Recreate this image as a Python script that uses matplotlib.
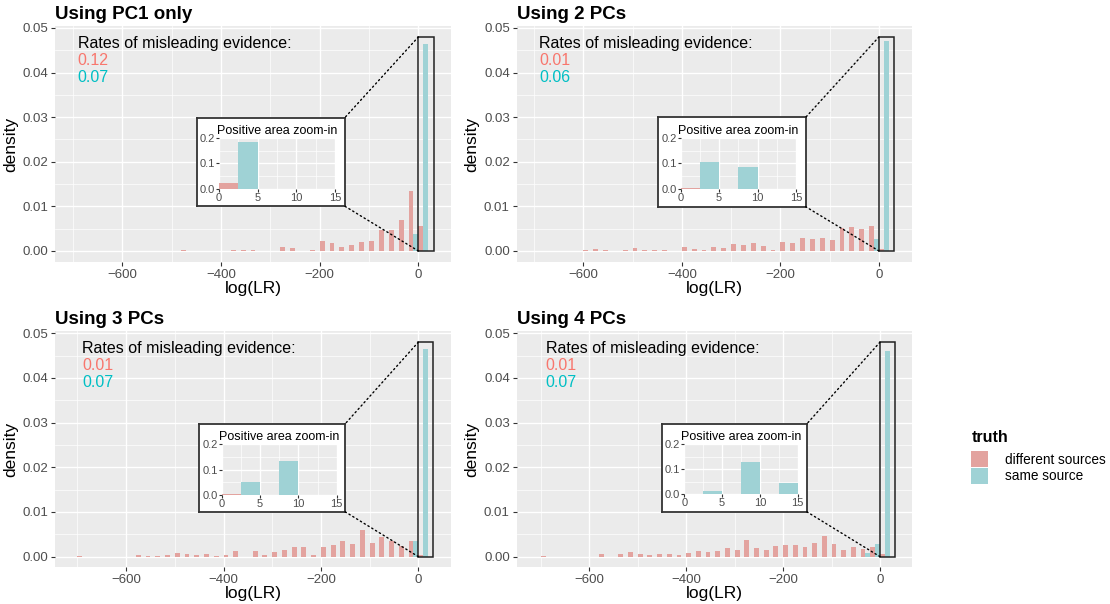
import numpy as np
import matplotlib
matplotlib.use("Agg")
import matplotlib.pyplot as plt
from matplotlib.patches import Rectangle, ConnectionPatch

plt.rcParams['font.family'] = ['Liberation Sans', 'DejaVu Sans']

# ---------------- data ----------------
titles = ["Using PC1 only", "Using 2 PCs", "Using 3 PCs", "Using 4 PCs"]
rate_diff = ["0.12", "0.01", "0.01", "0.01"]
rate_same = ["0.07", "0.06", "0.07", "0.07"]
legend_title = "truth"
legend_labels = ["different sources", "same source"]

# main histogram: bins of width 20, left edges -700 ... 0
bin_left = np.arange(-700, 20, 20)

diff_pc1 = [0, 0, 0, 0, 0, 0, 0, 0, 0, 0, 0, 0.0003, 0, 0, 0, 0, 0.0002, 0.0003,
            0.0002, 0, 0, 0.0009, 0.0007, 0, 0.0002, 0.0022, 0.0019, 0.0010, 0.0013,
            0.0021, 0.0022, 0.0046, 0.0046, 0.0069, 0.0134, 0.0055]
same_pc1 = [0] * 34 + [0.0037, 0.0463]

diff_pc2 = [0, 0, 0, 0, 0, 0.0003, 0.0005, 0.00015, 0.0001, 0.0003, 0.0007, 0.00015,
            0.0003, 0.0003, 0, 0.0008, 0.0004, 0.0003, 0.0009, 0.0006, 0.0015, 0.0013,
            0.0019, 0.0011, 0.00015, 0.0020, 0.0019, 0.0030, 0.0026, 0.0030, 0.0024,
            0.0052, 0.0054, 0.0049, 0.0057, 0.0004]
same_pc2 = [0] * 34 + [0.0028, 0.0471]

diff_pc3 = [0.0002, 0, 0, 0, 0, 0, 0.0004, 0.00015, 0.0001, 0.0004, 0.0009, 0.0005,
            0.0003, 0.0006, 0.00015, 0.0004, 0.0013, 0, 0.0013, 0.00045, 0.0011, 0.0014,
            0.0021, 0.0021, 0.0004, 0.0022, 0.0027, 0.0034, 0.0029, 0.0060, 0.0031,
            0.0044, 0.0034, 0.0024, 0.0036, 0.0004]
same_pc3 = [0] * 34 + [0.0036, 0.0465]

diff_pc4 = [0.0001, 0, 0, 0, 0, 0, 0.0006, 0, 0.0007, 0.0010, 0.0006, 0.0003,
            0.0005, 0.0007, 0.0003, 0.0009, 0.0012, 0.0010, 0.0013, 0.0020, 0.0016, 0.0037,
            0.0019, 0.0015, 0.0024, 0.0026, 0.0026, 0.0022, 0.0031, 0.0046, 0.0028,
            0.0015, 0.0021, 0.0018, 0.0022, 0.0005]
same_pc4 = [0] * 33 + [0.0008, 0.0028, 0.0460]

# inset histogram: bins of width 5, left edges 0, 5, 10
zoom_left = np.array([0, 5, 10])
zoom_diff = [[0.022, 0, 0], [0.002, 0, 0], [0.002, 0, 0], [0.002, 0, 0]]
zoom_same = [[0.185, 0, 0], [0.105, 0.087, 0], [0.052, 0.135, 0], [0.013, 0.128, 0.045]]

diff_all = [diff_pc1, diff_pc2, diff_pc3, diff_pc4]
same_all = [same_pc1, same_pc2, same_pc3, same_pc4]

# ---------------- style ----------------
W, H = 1110, 604
C_DIFF = "#E3A39F"
C_SAME = "#9FD2D5"
BG = "#EBEBEB"
TICKC = "#4D4D4D"

fig = plt.figure(figsize=(W / 100, H / 100), dpi=100)


def ax_px(l, t, r, b, **kw):
    return fig.add_axes([l / W, 1 - b / H, (r - l) / W, (b - t) / H], **kw)


def gg_style(ax, fs):
    ax.set_facecolor(BG)
    for s in ax.spines.values():
        s.set_visible(False)
    ax.grid(True, which='major', color='white', linewidth=1.0)
    ax.grid(True, which='minor', color='white', linewidth=0.5)
    ax.set_axisbelow(True)
    ax.tick_params(which='major', length=3, width=0.8, color='#333333',
                   labelcolor=TICKC, labelsize=fs, pad=2)
    ax.tick_params(which='minor', length=0)


panels = [(55, 26.2, 451, 261.7), (516.7, 26.2, 912, 261.7),
          (55, 331.4, 451, 567.4), (516.7, 331.4, 912, 567.4)]
xlims = [(-736, 66), (-735, 67), (-746, 67), (-750, 66)]
boxes = [(197, 118, 344.5, 206), (658.3, 117.3, 805.7, 206.7),
         (199.3, 424, 345, 511.7), (662.3, 424, 806.7, 511.7)]
inners = [(219, 137.7, 335, 189), (680.7, 138.3, 796, 188.7),
          (221.7, 444.3, 336.7, 494.7), (684.3, 444, 797.7, 494.3)]

for i in range(4):
    ax = ax_px(*panels[i])
    gg_style(ax, 9.5)
    ax.bar(bin_left, diff_all[i], width=10, align='edge', color=C_DIFF, linewidth=0)
    ax.bar(bin_left + 10, same_all[i], width=10, align='edge', color=C_SAME, linewidth=0)
    ax.set_xlim(*xlims[i])
    ax.set_ylim(-0.0024, 0.0504)
    ax.set_xticks([-600, -400, -200, 0])
    ax.set_xticks([-700, -500, -300, -100], minor=True)
    ax.set_yticks([0, 0.01, 0.02, 0.03, 0.04, 0.05])
    ax.set_yticklabels(["0.00", "0.01", "0.02", "0.03", "0.04", "0.05"])
    ax.set_yticks([0.005, 0.015, 0.025, 0.035, 0.045], minor=True)
    ax.set_xlabel("log(LR)", fontsize=12.5, labelpad=0)
    ax.set_ylabel("density", fontsize=12.5, labelpad=3)
    ax.set_title(titles[i], loc='left', fontweight='bold', fontsize=13.5, pad=5)
    # zoom rectangle
    ax.add_patch(Rectangle((0, 0), 31, 0.048, fill=False, edgecolor='#222222', linewidth=1.1, zorder=5))
    # annotation text
    ax.text(-690, 0.0466, "Rates of misleading evidence:", fontsize=11.5, va='center', ha='left', color='black')
    ax.text(-690, 0.0428, rate_diff[i], fontsize=11.5, va='center', ha='left', color="#F8766D")
    ax.text(-690, 0.0390, rate_same[i], fontsize=11.5, va='center', ha='left', color="#00BFC4")

    # inset box
    bx = ax_px(*boxes[i], facecolor='white')
    bx.set_xticks([])
    bx.set_yticks([])
    for s in bx.spines.values():
        s.set_color('#333333')
        s.set_linewidth(1.3)

    inn = ax_px(*inners[i])
    gg_style(inn, 8)
    inn.tick_params(which='major', length=2, pad=1)
    inn.bar(zoom_left, zoom_diff[i], width=2.5, align='edge', color=C_DIFF, linewidth=0)
    inn.bar(zoom_left + 2.5, zoom_same[i], width=2.5, align='edge', color=C_SAME, linewidth=0)
    inn.set_xlim(0, 15)
    inn.set_ylim(0, 0.2)
    inn.set_xticks([0, 5, 10, 15])
    inn.set_xticks([2.5, 7.5, 12.5], minor=True)
    inn.set_yticks([0, 0.1, 0.2])
    inn.set_yticklabels(["0.0", "0.1", "0.2"])
    inn.set_yticks([0.05, 0.15], minor=True)
    inn.set_title("Positive area zoom-in", fontsize=9, pad=3)

    # dotted connector lines
    for ya, yb in [(0.048, 1.0), (0.0, 0.0)]:
        cp = ConnectionPatch(xyA=(0, ya), coordsA=ax.transData, xyB=(1.0, yb), coordsB=bx.transAxes,
                             linestyle=(0, (1, 2.2)), color='black', linewidth=1.0, zorder=6)
        fig.add_artist(cp)

# legend (ggplot-style, drawn manually in figure pixel space)
lg = ax_px(960, 420, 1110, 495)
lg.set_xlim(960, 1110)
lg.set_ylim(495, 420)
lg.axis('off')
lg.text(972, 437, legend_title, fontsize=11.5, fontweight='bold', va='center', ha='left')
for j, (lab, col) in enumerate(zip(legend_labels, [C_DIFF, C_SAME])):
    y0 = 451 + j * 17
    lg.add_patch(Rectangle((971, y0), 17, 16, facecolor=col, edgecolor='none'))
    lg.text(1005, y0 + 8.5, lab, fontsize=9.8, va='center', ha='left')

fig.savefig("out.png", dpi=100)
